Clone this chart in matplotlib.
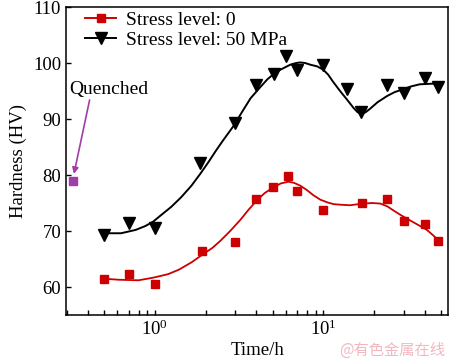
import matplotlib
matplotlib.use("Agg")
import matplotlib.pyplot as plt

plt.rcParams['font.family'] = ['Liberation Serif', 'DejaVu Serif']
plt.rcParams['mathtext.fontset'] = 'stix'

# measured hardness, stress level 0
t_red = [0.5, 0.7, 1.0, 1.9, 3.0, 4.0, 5.0, 6.2, 7.0, 10, 17, 24, 30, 40, 48]
hv_red = [61.5, 62.4, 60.6, 66.5, 68.1, 75.8, 77.8, 79.9, 77.1, 73.7, 75.0, 75.8, 71.8, 71.2, 68.2]

# measured hardness, stress level 50 MPa
t_blk = [0.5, 0.7, 1.0, 1.85, 3.0, 4.0, 5.1, 6.0, 7.0, 10, 13.8, 16.8, 24, 30, 40, 48]
hv_blk = [69.3, 71.4, 70.5, 82.2, 89.3, 96.0, 98.1, 101.3, 98.8, 99.7, 95.3, 91.2, 96.0, 94.6, 97.4, 95.8]

# fitted curves
fit_t_red = [0.49, 0.61, 0.80, 0.99, 1.2, 1.39, 1.65, 1.92, 2.2, 2.46, 2.8, 3.22, 3.6, 4.07,
             4.5, 5.06, 5.6, 6.2, 6.7, 7.3, 8.0, 8.72, 9.6, 10.6, 11.5, 12.6, 14.4, 17.2,
             19.5, 21.8, 24.0, 26.0, 29.0, 32.7, 37.0, 41.2, 45.0, 49.2]
fit_hv_red = [61.5, 61.3, 61.2, 61.7, 62.3, 63.1, 64.4, 65.8, 67.0, 68.3, 70.0, 72.0, 73.8, 75.6,
              76.8, 77.8, 78.5, 78.8, 78.6, 78.1, 77.3, 76.4, 75.6, 75.1, 74.8, 74.7, 74.6, 74.9,
              75.0, 74.9, 74.4, 73.7, 72.8, 71.9, 71.0, 70.2, 69.2, 68.1]
fit_t_blk = [0.49, 0.63, 0.77, 0.88, 0.98, 1.085, 1.25, 1.43, 1.65, 1.87, 2.08, 2.30, 2.53,
             2.94, 3.3, 3.70, 4.2, 4.66, 5.1, 5.56, 6.37, 6.9, 7.3, 7.8, 8.37, 9.2, 10.0,
             10.7, 11.4, 12.5, 13.8, 15.1, 16.0, 17.0, 18.0, 18.9, 21.0, 23.9, 26.5, 29.7,
             33.0, 37.4, 44.0, 51.0]
fit_hv_blk = [69.6, 69.6, 70.2, 70.9, 71.7, 72.8, 74.3, 76.0, 78.1, 80.3, 82.3, 84.3, 86.1,
              88.8, 91.3, 93.7, 95.6, 97.1, 98.1, 98.8, 99.7, 100.0, 100.1, 100.0, 99.7, 99.4, 98.8,
              97.9, 96.7, 95.1, 93.5, 92.0, 91.2, 90.9, 91.3, 91.8, 93.0, 94.1, 94.8, 95.3,
              95.8, 96.2, 96.3, 96.3]

t_quench = [0.327]
hv_quench = [79.0]

red = '#cc0000'
purple = '#a23ca8'

fig = plt.figure(figsize=(4.5, 3.63), dpi=100)
ax = fig.add_axes([0.1467, 0.1322, 0.8489, 0.8485])

ax.plot(fit_t_red, fit_hv_red, color=red, lw=1.3)
ax.plot(fit_t_blk, fit_hv_blk, color='black', lw=1.4)
ax.plot(t_red, hv_red, 's', color=red, ms=6, ls='none')
ax.plot(t_blk, hv_blk, 'v', color='black', ms=8, ls='none')
ax.plot(t_quench, hv_quench, 's', color=purple, ms=6, ls='none')

# legend handles
h1, = ax.plot([], [], color=red, marker='s', ms=6, lw=1.4)
h2, = ax.plot([], [], color='black', marker='v', ms=8, lw=1.4)
ax.legend([h1, h2], ['Stress level: 0', 'Stress level: 50 MPa'], loc='upper left',
          bbox_to_anchor=(0.02, 1.025), frameon=False, fontsize=14,
          handlelength=1.6, handletextpad=0.5, labelspacing=0.15, borderaxespad=0.2)

ax.text(0.31, 95.3, 'Quenched', fontsize=14, va='center', ha='left')
ax.annotate('', xy=(0.331, 80.2), xytext=(0.41, 93.4),
            arrowprops=dict(arrowstyle='-|>', color=purple, lw=1.2,
                            shrinkA=0, shrinkB=0, mutation_scale=9))

ax.set_xscale('log')
ax.set_xlim(0.297, 55)
ax.set_ylim(55, 110)
ax.set_yticks([60, 70, 80, 90, 100, 110])
ax.tick_params(which='both', direction='in', labelsize=13.5, length=3.5, width=1)
ax.tick_params(which='minor', length=3.5)
ax.set_xlabel('Time/h', fontsize=13.5, labelpad=2)
ax.set_ylabel('Hardness (HV)', fontsize=13.5, labelpad=4)
for s in ax.spines.values():
    s.set_linewidth(1.1)

fig.text(0.99, 0.012, '@有色金属在线', color='#f2b8c0', fontsize=11,
         ha='right', va='bottom', family=['Noto Sans CJK SC', 'DejaVu Sans'])

fig.savefig('out.png', dpi=100)
